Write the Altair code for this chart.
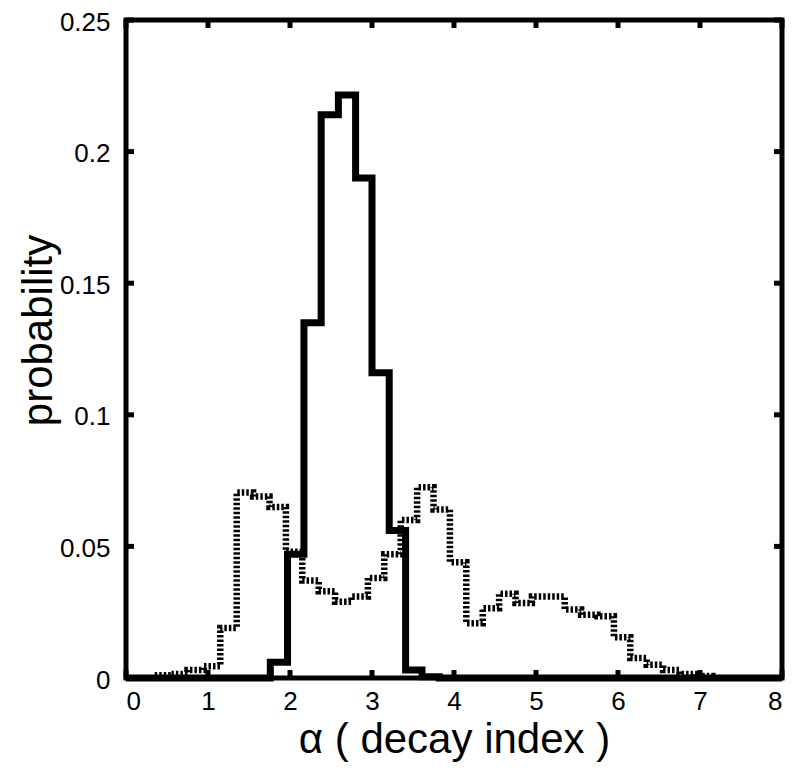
import altair as alt
import pandas as pd

# solid histogram: bin edges and probability per bin
solid_edges = [1.76, 1.97, 2.17, 2.38, 2.59, 2.80, 3.00, 3.21, 3.41, 3.61, 3.82]
solid_prob = [0.006, 0.047, 0.135, 0.214, 0.2215, 0.190, 0.116, 0.056, 0.003, 0.0005]

# dotted histogram: bin edges and probability per bin
dotted_edges = [0.35, 0.55, 0.75, 0.95, 1.15, 1.35, 1.55, 1.75, 1.95, 2.15,
                2.35, 2.55, 2.75, 2.95, 3.15, 3.35, 3.55, 3.75, 3.95, 4.15,
                4.35, 4.55, 4.75, 4.95, 5.15, 5.35, 5.55, 5.75, 5.95, 6.15,
                6.35, 6.55, 6.75, 6.95, 7.15]
dotted_prob = [0.001, 0.0015, 0.003, 0.0045, 0.019, 0.0705, 0.069, 0.065, 0.048, 0.037,
               0.033, 0.029, 0.031, 0.038, 0.047, 0.060, 0.0725, 0.064, 0.044, 0.0208,
               0.0265, 0.032, 0.0285, 0.031, 0.031, 0.026, 0.024, 0.0235, 0.0155, 0.0076,
               0.005, 0.003, 0.0015, 0.0008]

x_ticks = [0, 1, 2, 3, 4, 5, 6, 7, 8]
y_ticks = [0, 0.05, 0.1, 0.15, 0.2, 0.25]

W, H = 656, 658
TICK = 8

# step outlines (step-after): each point carries the value of the bin to its right
solid = pd.DataFrame({
    "alpha": [0] + solid_edges + [8],
    "prob": [0] + solid_prob + [0, 0],
})
dotted = pd.DataFrame({
    "alpha": dotted_edges,
    "prob": dotted_prob + [0],
})

xscale = alt.Scale(domain=[0, 8], nice=False, zero=False)
yscale = alt.Scale(domain=[0, 0.25], nice=False)

xaxis = alt.Axis(values=x_ticks, format="d", title="α ( decay index )",
                 titleBaseline="alphabetic", titleY=74, labelPadding=10)
yaxis = alt.Axis(values=y_ticks, format="~g", title="probability",
                 titleBaseline="alphabetic", titleX=-75, titleY=310,
                 labelPadding=16, labelOffset=2)

X = alt.X("alpha:Q", scale=xscale, axis=xaxis)
Y = alt.Y("prob:Q", scale=yscale, axis=yaxis)

dotted_line = alt.Chart(dotted).mark_line(
    interpolate="step-after", color="black", strokeWidth=6.5,
    strokeDash=[2.5, 2], strokeCap="butt"
).encode(x=X, y=Y)

solid_line = alt.Chart(solid).mark_line(
    interpolate="step-after", color="black", strokeWidth=7
).encode(x=X, y=Y)

# inward tick marks on all four sides of the box
xt = pd.DataFrame({"alpha": x_ticks})
yt = pd.DataFrame({"prob": y_ticks})
tick_style = dict(color="black", strokeWidth=5)

bottom_ticks = alt.Chart(xt).mark_rule(**tick_style).encode(
    x=X, y=alt.value(H), y2=alt.value(H - TICK))
top_ticks = alt.Chart(xt).mark_rule(**tick_style).encode(
    x=X, y=alt.value(0), y2=alt.value(TICK))
left_ticks = alt.Chart(yt).mark_rule(**tick_style).encode(
    y=Y, x=alt.value(0), x2=alt.value(TICK))
right_ticks = alt.Chart(yt).mark_rule(**tick_style).encode(
    y=Y, x=alt.value(W - TICK), x2=alt.value(W))

chart = (
    alt.layer(dotted_line, solid_line, bottom_ticks, top_ticks, left_ticks, right_ticks)
    .properties(
        width=W,
        height=H,
        autosize=alt.AutoSizeParams(type="none"),
        padding={"left": 118, "top": 12, "right": 8, "bottom": 87},
    )
    .configure_view(stroke="black", strokeWidth=5)
    .configure_axis(
        domain=False,
        ticks=False,
        tickSize=0,
        grid=False,
        labelFont="Liberation Sans",
        labelFontSize=26,
        labelColor="black",
        titleFont="Liberation Sans",
        titleFontSize=42,
        titleFontWeight="normal",
        titleColor="black",
    )
)

chart.save("out.html", embed_options={"renderer": "svg", "actions": False})
